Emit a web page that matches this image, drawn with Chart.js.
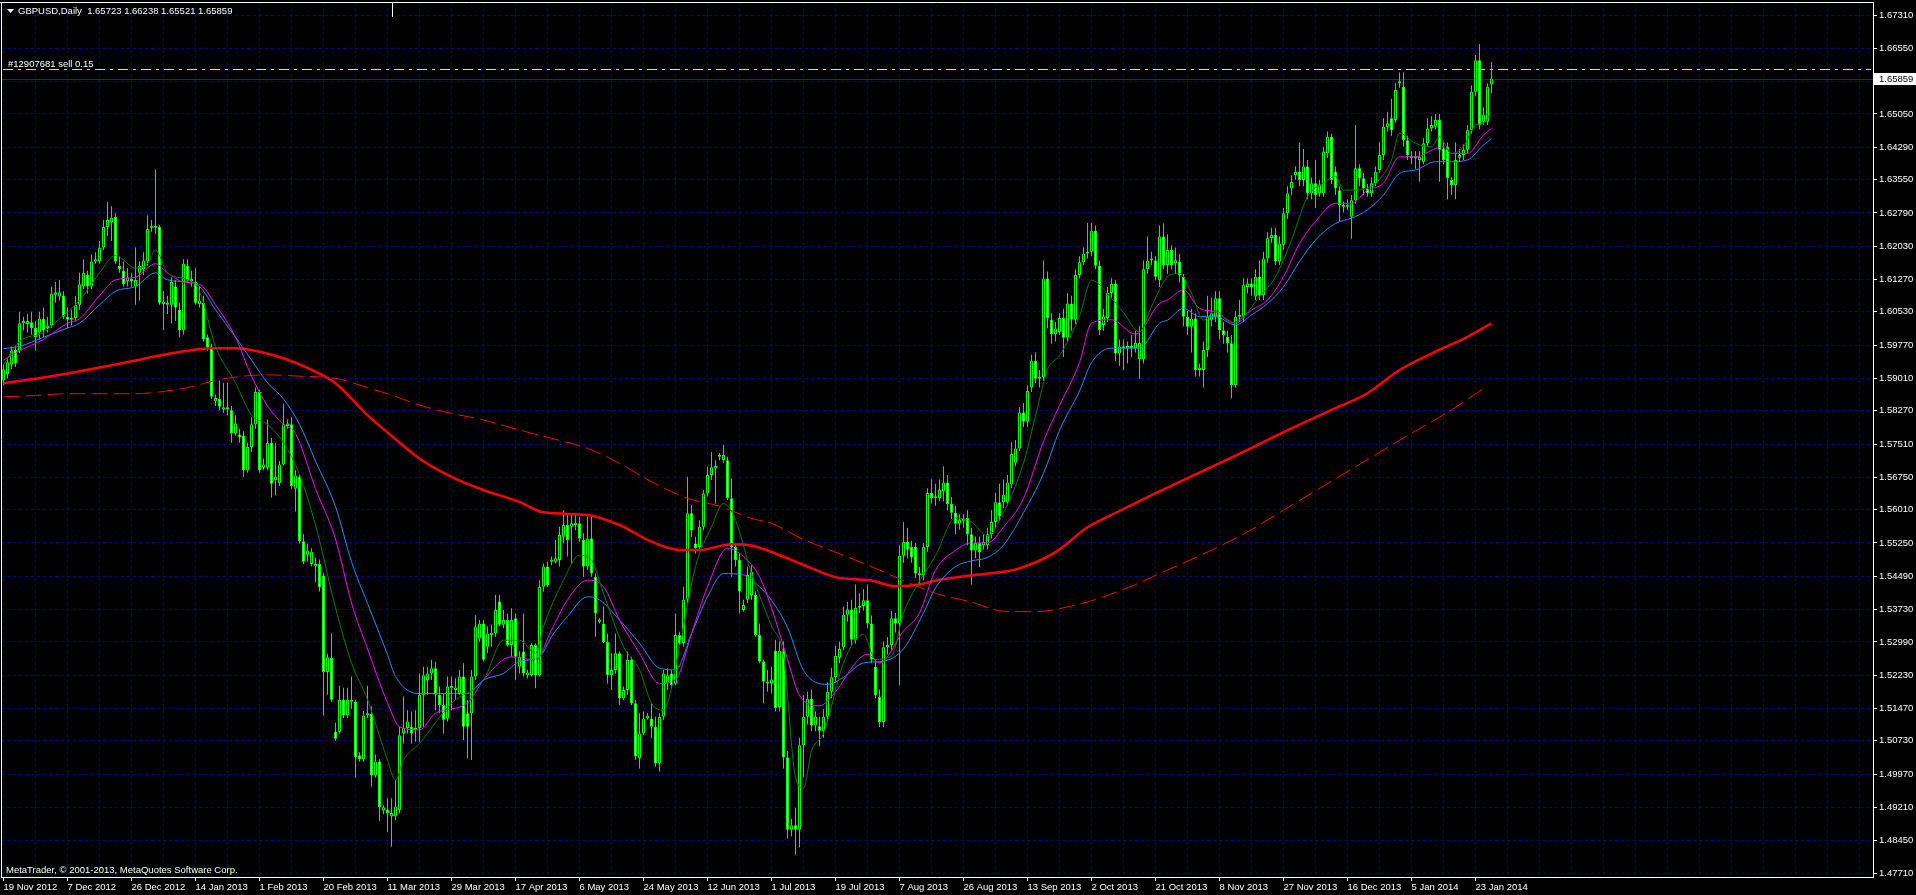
<!DOCTYPE html>
<html>
<head>
<meta charset="utf-8">
<style>
html, body { margin: 0; background: #000; overflow: hidden; }
canvas { display: block; }
</style>
<script src="https://cdn.jsdelivr.net/npm/chart.js@4.4.1/dist/chart.umd.min.js"></script>
</head>
<body>
<canvas id="grafico" width="1916" height="895"></canvas>
<script>
const simbolo = 'GBPUSD,Daily';
const textoOrdem = '#12907681 sell 0.15';
const precoOrdem = 16608;
const rodape = 'MetaTrader, \u00a9 2001-2013, MetaQuotes Software Corp.';

// rótulos do eixo de tempo, um a cada 16 barras
const datas = ['19 Nov 2012', '7 Dec 2012', '26 Dec 2012', '14 Jan 2013', '1 Feb 2013', '20 Feb 2013',
    '11 Mar 2013', '29 Mar 2013', '17 Apr 2013', '6 May 2013', '24 May 2013', '12 Jun 2013',
    '1 Jul 2013', '19 Jul 2013', '7 Aug 2013', '26 Aug 2013', '13 Sep 2013', '2 Oct 2013',
    '21 Oct 2013', '8 Nov 2013', '27 Nov 2013', '16 Dec 2013', '5 Jan 2014', '23 Jan 2014'];

// marcas do eixo de preço (em pips, 1/10000)
const marcasPreco = [16731, 16655, 16579, 16505, 16429, 16355, 16279, 16203, 16127, 16053, 15977, 15901,
    15827, 15751, 15675, 15601, 15525, 15449, 15373, 15299, 15223, 15147, 15073, 14997, 14921, 14845, 14771];

// velas diárias (pips)
const abertura = [
15896,15911,15932,15966,15964,16027,16025,16029,16016,16006,
16037,16016,16022,16092,16088,16090,16042,16035,16039,16069,
16111,16137,16111,16168,16168,16200,16247,16257,16270,16158,
16147,16123,16128,16111,16142,16150,16168,16245,16249,16247,
16071,16074,16069,16111,16058,16011,16158,16123,16121,16071,
16074,15995,15974,15849,15854,15830,15835,15828,15775,15773,
15770,15691,15744,15796,15870,15697,15697,15754,15668,15662,
15704,15792,15796,15649,15676,15529,15498,15477,15471,15477,
15450,15230,15262,15094,15094,15167,15131,15162,15162,15040,
15031,15131,15134,14994,15026,14914,14916,14900,14900,14915,
15090,15102,15105,15098,15102,15178,15212,15227,15239,15178,
15155,15124,15193,15189,15181,15220,15136,15136,15220,15307,
15341,15288,15315,15318,15391,15338,15349,15292,15353,15242,
15277,15223,15223,15292,15223,15425,15471,15482,15482,15486,
15539,15566,15562,15566,15570,15532,15471,15535,15448,15345,
15341,15299,15223,15235,15273,15170,15189,15258,15159,15033,
15090,15124,15124,15105,15022,15128,15204,15227,15204,15315,
15296,15395,15593,15524,15516,15562,15638,15680,15695,15722,
15714,15714,15627,15516,15486,15372,15395,15406,15406,15315,
15254,15204,15204,15279,15150,15279,15035,14870,14880,14870,
15063,15128,15169,15108,15106,15095,15128,15185,15218,15263,
15287,15361,15373,15304,15377,15381,15394,15341,15242,15173,
15116,15287,15292,15353,15341,15496,15528,15516,15516,15455,
15451,15516,15639,15627,15627,15643,15663,15614,15594,15569,
15578,15582,15545,15508,15525,15520,15520,15545,15573,15618,
15618,15618,15659,15708,15741,15823,15802,15880,15941,15900,
15904,16129,16035,16002,16007,16039,15994,16072,16035,16137,
16166,16186,16190,16238,16158,16023,16039,16096,16117,15958,
15974,15970,15975,15970,15945,15945,16150,16170,16170,16126,
16225,16160,16194,16164,16168,16133,16042,16019,16038,15920,
15920,15966,16034,16042,16084,16011,15996,15981,15886,16042,
16042,16110,16118,16088,16133,16091,16175,16221,16229,16168,
16206,16278,16335,16365,16373,16354,16385,16324,16347,16324,
16324,16415,16453,16373,16331,16297,16293,16270,16308,16381,
16358,16335,16324,16347,16377,16411,16476,16495,16491,16575,
16567,16445,16407,16404,16400,16396,16438,16472,16476,16491,
16426,16430,16354,16343,16405,16411,16423,16468,16556,16628,
16487,16487,16572.3];

const maxima = [
15932,15948,15974,15976,16053,16042,16048,16053,16032,16053,
16063,16042,16111,16121,16126,16100,16063,16058,16090,16142,
16173,16147,16184,16189,16215,16263,16304,16294,16278,16179,
16168,16153,16142,16200,16168,16189,16273,16263,16378,16252,
16100,16090,16132,16126,16074,16173,16173,16147,16153,16111,
16090,16001,15980,15864,15896,15891,15891,15838,15817,15786,
15780,15754,15812,15880,15875,15718,15807,15765,15754,15712,
15843,15807,15812,15691,15681,15545,15524,15513,15492,15487,
15456,15272,15319,15115,15199,15194,15194,15220,15167,15047,
15141,15199,15152,15042,15031,14926,14942,14942,14984,15105,
15174,15143,15140,15143,15227,15242,15242,15258,15254,15197,
15181,15220,15220,15216,15235,15250,15166,15235,15360,15349,
15349,15334,15338,15406,15406,15372,15364,15376,15364,15277,
15364,15235,15296,15296,15440,15478,15482,15494,15532,15562,
15600,15593,15593,15593,15585,15547,15585,15585,15455,15353,
15380,15318,15273,15318,15277,15197,15277,15265,15166,15136,
15140,15136,15159,15128,15136,15235,15239,15235,15364,15322,
15425,15676,15612,15539,15577,15646,15699,15733,15714,15730,
15749,15722,15672,15524,15501,15395,15471,15474,15414,15341,
15258,15235,15242,15304,15300,15300,15050,14895,14920,15080,
15177,15185,15190,15140,15128,15145,15206,15240,15290,15300,
15380,15390,15395,15430,15410,15420,15430,15360,15260,15190,
15300,15310,15370,15365,15520,15573,15560,15530,15525,15470,
15525,15650,15670,15660,15670,15700,15680,15630,15610,15590,
15590,15600,15560,15540,15540,15545,15560,15600,15640,15660,
15670,15680,15755,15760,15835,15845,15885,15955,15960,15920,
16170,16145,16050,16030,16050,16060,16096,16090,16150,16180,
16200,16256,16256,16250,16170,16060,16110,16130,16125,15990,
15990,15985,16000,16010,16020,16170,16225,16190,16180,16250,
16255,16230,16205,16200,16185,16140,16055,16060,16050,15935,
15985,16090,16085,16100,16100,16030,16010,16000,16055,16080,
16130,16130,16130,16150,16170,16190,16235,16245,16245,16225,
16290,16340,16365,16385,16440,16425,16400,16360,16400,16355,
16430,16465,16460,16385,16340,16305,16310,16320,16480,16390,
16370,16345,16360,16385,16440,16495,16510,16540,16575,16600,
16600,16455,16420,16420,16420,16450,16495,16500,16505,16505,
16440,16440,16360,16440,16425,16435,16480,16570,16640,16665,
16520,16575,16623.8];

const minima = [
15885,15901,15922,15927,15959,16011,16006,16001,15964,15990,
15995,16006,16016,16074,16079,16037,16016,16022,16032,16058,
16105,16095,16105,16163,16163,16194,16226,16215,16163,16142,
16111,16111,16111,16069,16079,16137,16158,16236,16231,16069,
16011,16048,16027,16032,15995,16001,16121,16111,16069,16063,
15985,15964,15854,15838,15828,15822,15817,15754,15770,15754,
15676,15686,15733,15786,15686,15691,15691,15629,15634,15655,
15702,15786,15649,15597,15524,15477,15482,15471,15435,15414,
15131,15178,15162,15073,15089,15125,15125,15146,14989,15026,
15026,15125,14968,14989,14890,14905,14864,14831,14892,14907,
15067,15090,15067,15071,15071,15105,15178,15212,15143,15136,
15090,15117,15143,15166,15178,15075,15033,15029,15212,15299,
15254,15273,15288,15311,15334,15330,15288,15265,15212,15227,
15220,15216,15220,15193,15220,15414,15425,15474,15478,15471,
15524,15494,15478,15554,15528,15448,15463,15448,15311,15341,
15296,15204,15189,15227,15155,15166,15178,15155,15029,15010,
15086,15121,15079,15014,15003,15121,15189,15193,15200,15292,
15288,15387,15539,15501,15509,15554,15631,15669,15615,15714,
15707,15623,15448,15471,15364,15368,15387,15395,15311,15250,
15159,15185,15181,15140,15140,15010,14850,14855,14813,14830,
14990,15110,15095,15095,15060,15080,15116,15170,15206,15250,
15280,15345,15290,15295,15365,15370,15330,15250,15170,15104,
15104,15270,15280,15320,15200,15480,15490,15480,15445,15430,
15440,15505,15615,15610,15620,15620,15600,15580,15545,15555,
15560,15520,15430,15490,15470,15510,15510,15535,15560,15575,
15605,15610,15650,15700,15735,15790,15790,15870,15890,15880,
15895,16015,15980,15985,16000,15950,15985,16010,16025,16130,
16160,16175,16180,16150,16000,16010,16030,16085,15940,15930,
15920,15935,15950,15960,15900,15935,16140,16160,16125,16110,
16150,16140,16150,16140,16120,16020,16000,15960,15905,15905,
15880,15950,16020,16030,15990,15980,15960,15855,15880,16030,
16030,16095,16090,16080,16080,16080,16165,16210,16160,16160,
16195,16265,16320,16355,16340,16340,16310,16310,16290,16316,
16316,16405,16345,16320,16260,16280,16285,16220,16300,16340,
16320,16316,16316,16340,16370,16400,16465,16455,16485,16565,
16430,16400,16390,16380,16350,16390,16430,16465,16470,16350,
16390,16310,16320,16310,16395,16400,16415,16460,16545,16470,
16480,16480,16552.1];

const fechamento = [
15922,15938,15964,15935,16027,16032,16032,16016,15995,16037,
16011,16022,16095,16098,16098,16042,16035,16039,16069,16116,
16142,16111,16168,16173,16200,16247,16263,16268,16168,16150,
16116,16132,16123,16126,16158,16170,16242,16249,16245,16074,
16076,16069,16121,16063,16011,16163,16126,16128,16074,16079,
15990,15972,15859,15856,15836,15835,15830,15775,15798,15767,
15691,15744,15796,15870,15691,15704,15754,15660,15676,15704,
15796,15798,15655,15679,15529,15482,15508,15505,15477,15424,
15230,15264,15167,15078,15167,15131,15167,15167,15036,15031,
15131,15136,14994,15026,14921,14921,14908,14908,14923,15086,
15102,15117,15090,15102,15178,15223,15227,15239,15178,15155,
15121,15197,15198,15195,15220,15105,15105,15220,15334,15341,
15258,15318,15320,15372,15338,15349,15292,15349,15265,15265,
15227,15229,15292,15223,15425,15471,15429,15487,15490,15543,
15566,15532,15570,15571,15535,15471,15535,15455,15364,15350,
15299,15223,15235,15273,15170,15189,15258,15159,15037,15090,
15124,15130,15105,15022,15128,15227,15223,15200,15315,15296,
15395,15593,15554,15513,15562,15638,15680,15698,15701,15726,
15726,15627,15516,15486,15414,15383,15452,15459,15315,15254,
15208,15208,15213,15148,15279,15035,14870,14880,14870,15063,
15128,15169,15108,15128,15096,15128,15185,15218,15267,15283,
15361,15373,15304,15377,15381,15394,15341,15259,15177,15116,
15287,15292,15353,15341,15496,15528,15510,15492,15455,15451,
15516,15639,15627,15630,15647,15663,15614,15594,15569,15578,
15576,15545,15508,15525,15504,15528,15545,15573,15618,15586,
15635,15663,15729,15741,15823,15802,15872,15941,15900,15904,
16129,16039,16002,16015,16039,15994,16072,16035,16137,16166,
16186,16190,16238,16158,16011,16043,16096,16117,15958,15974,
15970,15975,15970,15982,15982,16150,16170,16175,16133,16225,
16160,16194,16160,16171,16137,16042,16019,16038,15920,15925,
15966,16042,16050,16084,16011,16000,15981,15886,16042,16046,
16114,16118,16110,16133,16091,16175,16221,16229,16168,16209,
16278,16324,16350,16373,16354,16385,16324,16347,16320,16343,
16419,16453,16354,16335,16297,16293,16297,16308,16381,16358,
16335,16324,16347,16373,16411,16476,16484,16468,16560,16579,
16445,16411,16404,16407,16407,16438,16472,16480,16491,16423,
16400,16358,16343,16400,16411,16423,16468,16556,16628,16480,
16503,16567,16585.9];

// médias móveis: [barra, valor]
const mmVerde = [[0,15932],[4,15985],[10,16006],[14,16037],[19,16079],[24,16142],[28,16182],[33,16153],
    [36,16163],[38,16194],[41,16142],[46,16126],[49,16100],[53,15974],[58,15891],[62,15817],[66,15796],
    [70,15754],[74,15681],[78,15566],[83,15377],[87,15251],[91,15167],[96,15029],[98,14983],[100,15029],
    [104,15067],[112,15159],[120,15212],[125,15303],[129,15303],[133,15273],[135,15334],[140,15440],
    [144,15497],[147,15486],[150,15410],[155,15288],[159,15235],[162,15159],[165,15143],[169,15288],
    [173,15471],[177,15562],[180,15615],[183,15577],[187,15455],[192,15336],[195,15267],[198,14990],
    [200,14965],[202,15050],[205,15090],[210,15251],[215,15316],[218,15259],[222,15267],[225,15365],
    [228,15422],[233,15496],[238,15582],[242,15573],[246,15541],[250,15594],[255,15708],[258,15815],
    [261,15921],[264,15953],[269,16043],[272,16125],[277,16084],[280,16051],[284,16007],[287,16065],
    [291,16133],[294,16141],[297,16095],[300,16034],[303,16057],[307,16027],[310,16042],[314,16088],
    [318,16133],[322,16217],[326,16316],[330,16347],[333,16362],[335,16331],[338,16331],[343,16347],
    [347,16400],[349,16461],[353,16438],[357,16430],[359,16453],[362,16415],[365,16430],[368,16480],
    [370,16484],[372,16510]];

const mmMagenta = [[0,15943],[4,15964],[10,15990],[16,16027],[19,16037],[24,16090],[28,16126],[33,16132],
    [38,16163],[41,16142],[45,16121],[49,16116],[53,16069],[58,15995],[62,15906],[66,15838],[70,15796],
    [73,15775],[78,15649],[83,15534],[87,15388],[91,15283],[96,15160],[99,15105],[104,15098],[108,15136],
    [116,15159],[120,15212],[127,15265],[133,15258],[137,15326],[141,15395],[146,15440],[150,15425],
    [154,15349],[159,15273],[164,15204],[168,15212],[172,15318],[176,15425],[181,15513],[185,15494],
    [189,15448],[192,15377],[196,15259],[199,15177],[204,15153],[208,15185],[213,15251],[216,15271],
    [219,15251],[225,15324],[229,15365],[233,15463],[238,15508],[242,15525],[246,15525],[250,15561],
    [255,15627],[260,15757],[264,15839],[269,15937],[272,16027],[277,16035],[283,16002],[289,16072],
    [291,16080],[295,16103],[299,16061],[303,16053],[308,16027],[312,16057],[316,16080],[320,16133],
    [324,16209],[328,16259],[333,16301],[337,16301],[341,16331],[345,16347],[349,16407],[353,16407],
    [358,16426],[360,16430],[362,16415],[366,16415],[370,16457],[372,16472]];

const mmAzul = [[0,15969],[4,15974],[10,15995],[16,16016],[19,16027],[24,16069],[28,16100],[33,16111],
    [38,16142],[41,16126],[46,16121],[49,16111],[53,16058],[58,15995],[62,15943],[66,15891],[70,15854],
    [74,15796],[78,15712],[83,15608],[87,15482],[91,15387],[96,15270],[98,15220],[104,15181],[112,15181],
    [116,15181],[120,15212],[125,15227],[129,15254],[134,15265],[137,15311],[141,15357],[146,15402],
    [149,15395],[154,15349],[159,15296],[164,15239],[168,15235],[172,15318],[176,15402],[180,15455],
    [185,15452],[189,15425],[192,15394],[196,15332],[200,15234],[206,15202],[210,15218],[215,15251],
    [220,15255],[225,15283],[230,15365],[233,15422],[238,15471],[242,15484],[246,15492],[250,15520],
    [255,15594],[260,15684],[264,15782],[269,15872],[272,15937],[277,15970],[284,15970],[289,16027],
    [291,16034],[295,16061],[299,16042],[303,16042],[308,16023],[312,16046],[316,16072],[320,16110],
    [324,16168],[328,16217],[333,16255],[337,16267],[341,16286],[345,16320],[349,16369],[353,16377],
    [358,16396],[362,16396],[366,16400],[370,16434],[372,16449]];

const mmVermelha = [[0,15890],[8,15900],[16,15912],[24,15926],[32,15940],[40,15955],[46,15964],[52,15970],
    [58,15970],[64,15962],[70,15947],[76,15925],[83,15890],[91,15817],[97,15770],[104,15718],[112,15676],
    [120,15646],[129,15619],[135,15595],[146,15589],[154,15566],[162,15528],[169,15509],[174,15509],
    [182,15522],[187,15519],[193,15501],[200,15475],[208,15447],[217,15439],[223,15426],[229,15430],
    [233,15439],[242,15451],[250,15459],[254,15467],[263,15504],[271,15561],[279,15598],[289,15643],
    [300,15690],[310,15733],[320,15778],[332,15829],[341,15867],[349,15920],[358,15962],[366,15996],
    [372,16027]];

const mmVermelhaTracejada = [[0,15859],[8,15862],[16,15866],[24,15866],[33,15866],[39,15870],[46,15880],
    [53,15896],[58,15904],[66,15909],[74,15906],[83,15901],[91,15880],[96,15866],[104,15840],[112,15821],
    [120,15806],[129,15783],[137,15764],[146,15741],[154,15707],[162,15665],[171,15627],[179,15609],
    [187,15581],[192,15570],[200,15533],[208,15504],[217,15471],[225,15439],[233,15410],[242,15390],
    [250,15369],[258,15368],[267,15381],[275,15402],[283,15430],[289,15455],[300,15500],[310,15545],
    [320,15600],[330,15655],[340,15710],[350,15765],[362,15829],[370,15878]];

const PIP = 10000;
const fonte = '9.5px "Liberation Sans"';
const verdeVela = '#00ff00';
const corGrade = '#000090';
const ultimo = fechamento[fechamento.length - 1];
const n = fechamento.length - 1;

function formatar(v) {
    return (v / PIP).toFixed(5);
}

function serie(pares) {
    return pares.map(p => ({ x: p[0], y: p[1] }));
}

const pavios = abertura.map((o, i) => ({ x: i, y: [minima[i], maxima[i]] }));
const corpos = abertura.map((o, i) => ({ x: i, y: [o, fechamento[i]] }));

const decoracao = {
    id: 'decoracao',
    beforeDatasetsDraw(chart) {
        const { ctx, chartArea: a, scales: { y } } = chart;
        ctx.save();
        // linha do bid
        const yb = Math.round(y.getPixelForValue(ultimo)) + 0.5;
        ctx.strokeStyle = '#2020a8';
        ctx.lineWidth = 1;
        ctx.beginPath();
        ctx.moveTo(a.left, yb);
        ctx.lineTo(a.right, yb);
        ctx.stroke();
        // ordem de venda aberta
        const yo = Math.round(y.getPixelForValue(precoOrdem)) + 0.5;
        ctx.strokeStyle = '#f0f000';
        ctx.setLineDash([10, 5, 3, 5]);
        ctx.beginPath();
        ctx.moveTo(a.left + 2, yo);
        ctx.lineTo(a.right - 2, yo);
        ctx.stroke();
        ctx.setLineDash([]);
        ctx.font = fonte;
        ctx.fillStyle = '#ffffff';
        ctx.textBaseline = 'alphabetic';
        ctx.fillText(textoOrdem, 8, yo - 2.5);
        ctx.restore();
    },
    afterDraw(chart) {
        const { ctx, chartArea: a, scales: { y } } = chart;
        ctx.save();
        ctx.strokeStyle = '#ffffff';
        ctx.lineWidth = 1;
        ctx.beginPath();
        ctx.moveTo(0, 2.5);
        ctx.lineTo(a.right, 2.5);
        ctx.moveTo(1.5, 2);
        ctx.lineTo(1.5, a.bottom);
        ctx.moveTo(392.5, 2);
        ctx.lineTo(392.5, 17);
        ctx.stroke();

        // cabeçalho
        ctx.fillStyle = '#ffffff';
        ctx.beginPath();
        ctx.moveTo(7, 9);
        ctx.lineTo(14, 9);
        ctx.lineTo(10.5, 13);
        ctx.closePath();
        ctx.fill();
        ctx.font = fonte;
        ctx.textBaseline = 'alphabetic';
        const ohlc = [abertura[n], maxima[n], minima[n], fechamento[n]].map(formatar).join(' ');
        ctx.fillText(simbolo + '  ' + ohlc, 18, 13.5);
        ctx.fillText(rodape, 6, 873);

        // etiqueta do preço atual
        const yb = Math.round(y.getPixelForValue(ultimo)) + 0.5;
        ctx.fillStyle = '#ffffff';
        ctx.fillRect(a.right + 1, yb - 6.5, 1916 - a.right, 12);
        ctx.fillStyle = '#000000';
        ctx.textBaseline = 'middle';
        ctx.fillText(formatar(ultimo), a.right + 6, yb);
        ctx.restore();
    }
};

new Chart(document.getElementById('grafico').getContext('2d'), {
    type: 'bar',
    data: {
        datasets: [
            {
                type: 'line', data: serie(mmVerde), borderColor: '#008000', borderWidth: 1,
                pointRadius: 0, cubicInterpolationMode: 'monotone', order: 0
            },
            {
                type: 'line', data: serie(mmMagenta), borderColor: '#ff00ff', borderWidth: 1,
                pointRadius: 0, cubicInterpolationMode: 'monotone', order: 0
            },
            {
                type: 'line', data: serie(mmAzul), borderColor: '#1e90ff', borderWidth: 1,
                pointRadius: 0, cubicInterpolationMode: 'monotone', order: 0
            },
            {
                type: 'line', data: serie(mmVermelha), borderColor: '#ff0000', borderWidth: 2.5,
                pointRadius: 0, cubicInterpolationMode: 'monotone', order: 1
            },
            {
                type: 'line', data: serie(mmVermelhaTracejada), borderColor: '#ff0000', borderWidth: 1,
                borderDash: [16, 6], pointRadius: 0, cubicInterpolationMode: 'monotone', order: 1
            },
            {
                data: corpos,
                backgroundColor: ctx => fechamento[ctx.dataIndex] >= abertura[ctx.dataIndex] ? '#000000' : '#ffffff',
                borderColor: verdeVela, borderWidth: 1, borderSkipped: false,
                barThickness: 3, minBarLength: 2, inflateAmount: 0, grouped: false, order: 2
            },
            {
                data: pavios, backgroundColor: verdeVela, borderWidth: 0,
                barThickness: 1, inflateAmount: 0, grouped: false, order: 3
            }
        ]
    },
    options: {
        responsive: false,
        animation: false,
        events: [],
        layout: { padding: { left: 1, top: 2, right: 0, bottom: 0 } },
        plugins: { legend: { display: false }, tooltip: { enabled: false } },
        scales: {
            x: {
                type: 'linear', min: -0.625, max: 467.375, offset: false,
                grid: {
                    offset: false, color: corGrade, tickLength: 4, tickWidth: 1,
                    tickColor: ctx => (ctx.tick && ctx.tick.value % 16 === 0 && ctx.tick.value / 16 < datas.length) ? '#ffffff' : 'rgba(0,0,0,0)'
                },
                border: { color: '#ffffff', dash: [3, 3] },
                ticks: {
                    autoSkip: false, maxRotation: 0, align: 'start', padding: 1,
                    color: '#ffffff', font: { family: 'Liberation Sans', size: 9.5 },
                    callback: v => (v % 16 === 0 && datas[v / 16]) ? datas[v / 16] : ''
                },
                afterBuildTicks: scale => {
                    const marcas = [];
                    for (let b = 0; b <= 467; b += 8) marcas.push({ value: b });
                    scale.ticks = marcas;
                },
                afterFit: scale => {
                    scale.height = 18;
                    scale.paddingLeft = 0;
                    scale.paddingRight = 0;
                }
            },
            y: {
                type: 'linear', position: 'right', min: 14761.9, max: 16760.8,
                grid: { color: corGrade, tickLength: 4, tickWidth: 1, tickColor: '#ffffff' },
                border: { color: '#ffffff', dash: [3, 3] },
                ticks: {
                    autoSkip: false, padding: 2, color: '#ffffff',
                    font: { family: 'Liberation Sans', size: 9.5 },
                    callback: v => Math.abs(v - ultimo) < 20 ? '' : formatar(v)
                },
                afterBuildTicks: scale => {
                    scale.ticks = marcasPreco.map(v => ({ value: v }));
                },
                afterFit: scale => {
                    scale.width = 43;
                    scale.paddingTop = 0;
                    scale.paddingBottom = 0;
                }
            }
        }
    },
    plugins: [decoracao]
});
</script>
</body>
</html>
